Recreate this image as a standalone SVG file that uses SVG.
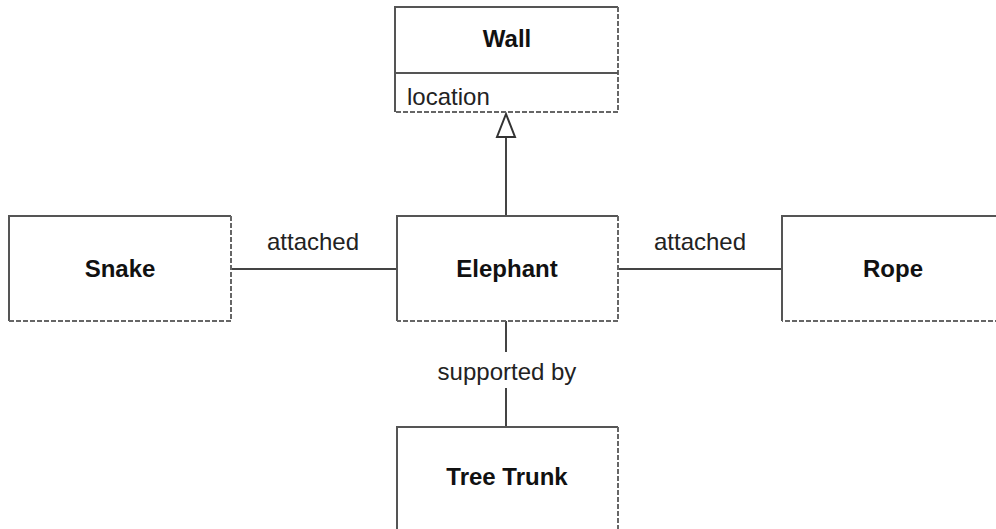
<svg xmlns="http://www.w3.org/2000/svg" width="996" height="529" viewBox="0 0 996 529">
<style>
.solid{stroke:#555;stroke-width:2;fill:none}
.dash{stroke:#666;stroke-width:2;fill:none;stroke-dasharray:5 2}
.bg{fill:#fff}
.name{font-family:"Liberation Sans",Arial,sans-serif;font-weight:bold;font-size:24px;fill:#111;text-anchor:middle}
.lbl{font-family:"Liberation Sans",Arial,sans-serif;font-size:24px;fill:#222;text-anchor:middle}
.attr{font-family:"Liberation Sans",Arial,sans-serif;font-size:24px;fill:#222}
.conn{stroke:#444;stroke-width:2;fill:none}
</style>
<rect width="996" height="529" fill="#fff"/>
<g id="connectors">
<line class="conn" x1="506" y1="137" x2="506" y2="216"/>
<polygon points="506,114 497,137 515,137" fill="#fff" stroke="#333" stroke-width="2"/>
<line class="conn" x1="231" y1="269" x2="397" y2="269"/>
<text class="lbl" x="313" y="250">attached</text>
<line class="conn" x1="618" y1="269" x2="782" y2="269"/>
<text class="lbl" x="700" y="250">attached</text>
<line class="conn" x1="506" y1="321" x2="506" y2="352"/>
<text class="lbl" x="507" y="380">supported by</text>
<line class="conn" x1="506" y1="388" x2="506" y2="427"/>
</g>
<g id="wall">
<rect class="bg" x="395" y="7" width="223" height="105"/>
<path class="solid" d="M395,112 V7 H618"/>
<path class="dash" d="M618,7 V112 H395"/>
<line class="solid" x1="395" y1="73" x2="618" y2="73"/>
<text class="name" x="507" y="47">Wall</text>
<text class="attr" x="407" y="105">location</text>
</g>
<g id="snake">
<rect class="bg" x="9" y="216" width="222" height="105"/>
<path class="solid" d="M9,321 V216 H231"/>
<path class="dash" d="M231,216 V321 H9"/>
<text class="name" x="120" y="277">Snake</text>
</g>
<g id="elephant">
<rect class="bg" x="397" y="216" width="221" height="105"/>
<path class="solid" d="M397,321 V216 H618"/>
<path class="dash" d="M618,216 V321 H397"/>
<text class="name" x="507" y="277">Elephant</text>
</g>
<g id="rope">
<rect class="bg" x="782" y="216" width="220" height="105"/>
<path class="solid" d="M782,321 V216 H1000"/>
<path class="dash" d="M1000,321 H782"/>
<text class="name" x="893" y="277">Rope</text>
</g>
<g id="treetrunk">
<rect class="bg" x="397" y="427" width="221" height="110"/>
<path class="solid" d="M397,535 V427 H618"/>
<path class="dash" d="M618,427 V535"/>
<text class="name" x="507" y="485">Tree Trunk</text>
</g>
</svg>
